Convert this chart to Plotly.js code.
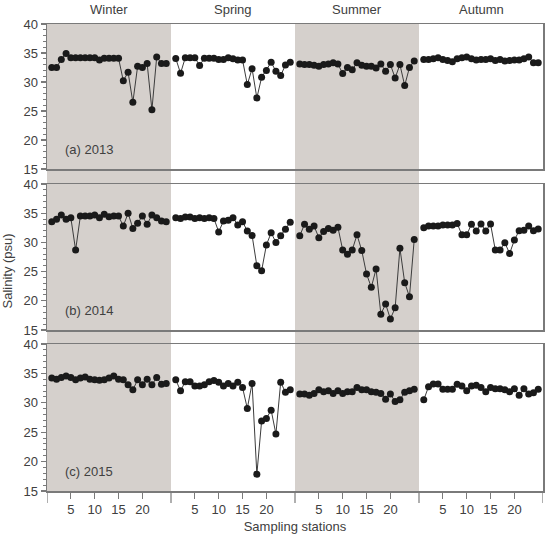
<!DOCTYPE html>
<html>
<head>
<meta charset="utf-8">
<script src="https://cdn.plot.ly/plotly-3.0.1.min.js"></script>
<style>html,body{margin:0;padding:0;background:#fff;}#chart{width:552px;height:541px;}</style>
</head>
<body>
<div id="chart"></div>
<script>
const stations = [1,2,3,4,5,6,7,8,9,10,11,12,13,14,15,16,17,18,19,20,21,22,23,24,25];
const seasons = ["Winter","Spring","Summer","Autumn"];
const yearLabels = ["(a) 2013","(b) 2014","(c) 2015"];
const xTickLabels = ["5","10","15","20"];

// 2013
const winter2013 = [32.5,32.5,33.9,34.9,34.2,34.2,34.2,34.2,34.2,34.2,33.8,34.1,34.1,34.1,34.1,30.2,31.7,26.5,32.7,32.5,33.2,25.2,34.3,33.2,33.2];
const spring2013 = [34.05,31.5,34.2,34.2,34.2,32.85,34.1,34.1,34.1,33.9,33.9,34.2,34.0,33.8,33.8,29.55,32.3,27.25,30.8,32.0,33.4,31.85,31.1,32.95,33.4];
const summer2013 = [33.1,33.0,33.0,32.9,32.7,33.0,33.1,33.3,33.1,31.45,32.5,32.1,33.3,32.9,32.7,32.7,32.4,33.1,31.85,33.0,30.7,33.0,29.4,32.5,33.6];
const autumn2013 = [33.9,33.9,34.0,34.2,33.9,33.7,33.5,34.0,34.2,34.3,34.0,33.8,33.9,33.9,34.0,33.7,33.9,33.6,33.7,33.8,33.8,34.0,34.3,33.3,33.3];
// 2014
const winter2014 = [33.55,33.95,34.7,33.95,34.2,28.7,34.5,34.5,34.5,34.7,34.2,34.8,34.4,34.5,34.5,32.8,35.0,32.4,33.3,34.5,33.1,34.7,34.2,33.65,33.55];
const spring2014 = [34.2,34.1,34.35,34.35,34.1,34.2,34.1,34.2,34.1,31.8,33.65,33.8,34.2,33.0,33.55,31.95,31.2,26.0,25.15,29.55,31.65,30.0,31.15,32.25,33.45];
const summer2014 = [31.15,33.1,32.25,32.8,30.8,31.85,32.4,32.1,32.6,28.7,27.95,28.7,31.3,28.6,24.6,22.3,25.45,17.7,19.45,16.9,18.8,29.0,23.1,20.7,30.5];
const autumn2014 = [32.5,32.8,32.8,32.8,33.0,33.0,33.0,33.25,31.3,31.3,33.1,31.95,33.15,31.95,33.15,28.7,28.7,29.95,28.1,30.4,32.0,32.1,32.8,32.0,32.3];
// 2015
const winter2015 = [34.2,34.0,34.3,34.55,34.3,33.9,34.2,34.4,34.0,33.9,33.85,33.9,34.2,34.55,34.0,33.9,33.05,32.2,33.9,33.05,34.0,33.05,34.3,33.15,33.3];
const spring2015 = [33.9,32.05,33.6,33.6,32.85,32.85,33.05,33.6,33.8,33.5,32.85,33.3,32.85,33.5,32.6,29.05,33.3,17.85,26.9,27.35,28.75,24.7,33.5,31.8,32.2];
const summer2015 = [31.5,31.5,31.3,31.6,32.2,31.9,32.05,31.6,32.05,31.6,31.9,31.9,32.6,32.2,32.2,31.9,31.8,31.6,30.6,31.5,30.2,30.5,31.8,32.05,32.3];
const autumn2015 = [30.5,32.75,33.2,33.2,32.3,32.3,32.3,33.15,32.85,32.05,32.85,33.0,32.6,31.9,32.6,32.4,32.4,32.2,31.9,32.4,31.3,32.4,31.5,31.7,32.3];

const rows = [
  [winter2013, spring2013, summer2013, autumn2013],
  [winter2014, spring2014, summer2014, autumn2014],
  [winter2015, spring2015, summer2015, autumn2015]
];

const SPAN = 26; // axis units per season panel
const FONT = '"Liberation Sans", Arial, sans-serif';
const TXT = '#404040';
const LINE = '#7a7a7a';

const traces = [];
rows.forEach((row, r) => {
  const sfx = r === 0 ? '' : String(r + 1);
  row.forEach((vals, k) => {
    traces.push({
      type: 'scatter', mode: 'lines+markers',
      x: stations.map(s => s + SPAN * k), y: vals,
      xaxis: 'x' + sfx, yaxis: 'y' + sfx,
      line: {color: '#3c3c3c', width: 1},
      marker: {color: '#1a1a1a', size: 7},
      showlegend: false, hoverinfo: 'skip'
    });
  });
});

const tickvals = [], ticktext = [];
for (let k = 0; k < 4; k++) {
  [5,10,15,20].forEach((v, i) => { tickvals.push(v + SPAN * k); ticktext.push(xTickLabels[i]); });
}

const H = 541 - 24 - 50;
const domains = [
  [(491 - 169) / H, 1],
  [(491 - 330) / H, (491 - 184) / H],
  [0, (491 - 344) / H]
];

const layout = {
  width: 552, height: 541,
  margin: {l: 47, r: 9, t: 24, b: 50},
  paper_bgcolor: '#ffffff', plot_bgcolor: 'rgba(0,0,0,0)',
  font: {family: FONT, size: 13, color: TXT},
  shapes: [], annotations: []
};

rows.forEach((row, r) => {
  const sfx = r === 0 ? '' : String(r + 1);
  const last = r === 2;
  layout['xaxis' + sfx] = {
    range: [0, SPAN * 4], anchor: 'y' + sfx,
    showline: true, mirror: true, linecolor: LINE, linewidth: 1.5,
    showgrid: false, zeroline: false,
    tickmode: 'array', tickvals: tickvals, ticktext: ticktext,
    ticks: last ? 'outside' : '', ticklen: 6, tickcolor: LINE, tickwidth: 1.2,
    showticklabels: last,
    tickfont: {family: FONT, size: 13, color: TXT},
    title: last ? {text: 'Sampling stations', font: {family: FONT, size: 13, color: TXT}, standoff: 6} : {text: ''}
  };
  if (r !== 2) layout['xaxis' + sfx].matches = 'x3';
  layout['yaxis' + sfx] = {
    domain: domains[r], range: [15, 40], anchor: 'x' + sfx,
    showline: true, mirror: true, linecolor: LINE, linewidth: 1.5,
    showgrid: false, zeroline: false,
    tickmode: 'array', tickvals: [15,20,25,30,35,40],
    ticks: 'outside', ticklen: 5, tickcolor: LINE, tickwidth: 1.2,
    minor: {dtick: 1, tick0: 15, ticks: 'outside', ticklen: 3, tickcolor: LINE, tickwidth: 1, showgrid: false},
    tickfont: {family: FONT, size: 13, color: TXT}
  };
  layout.annotations.push({
    xref: 'x' + sfx, yref: 'y' + sfx, x: 3.3, y: 18.3,
    xanchor: 'left', yanchor: 'middle', showarrow: false,
    text: yearLabels[r], font: {family: FONT, size: 13, color: TXT}
  });
});

// shaded winter & summer columns
[0, 2].forEach(k => {
  layout.shapes.push({
    type: 'rect', xref: 'x3', yref: 'paper',
    x0: SPAN * k, x1: SPAN * (k + 1), y0: 0, y1: 1,
    fillcolor: '#d5d0cc', line: {width: 0}, layer: 'below'
  });
});
// longer ticks at panel boundaries
for (let k = 0; k <= 4; k++) {
  layout.shapes.push({
    type: 'line', xref: 'x3', yref: 'paper',
    x0: SPAN * k, x1: SPAN * k, y0: 0, y1: -12 / H,
    line: {color: LINE, width: 1.2}
  });
}
// season titles
seasons.forEach((s, k) => {
  layout.annotations.push({
    xref: 'x3', yref: 'paper', x: SPAN * k + SPAN / 2, y: 1,
    xanchor: 'center', yanchor: 'bottom', yshift: 5, showarrow: false,
    text: s, font: {family: FONT, size: 13, color: TXT}
  });
});
// y title
layout.annotations.push({
  xref: 'paper', yref: 'paper', x: -47 / 496, y: 0.47, xshift: 8,
  xanchor: 'center', yanchor: 'middle', textangle: -90, showarrow: false,
  text: 'Salinity (psu)', font: {family: FONT, size: 13, color: TXT}
});

Plotly.newPlot('chart', traces, layout, {displayModeBar: false, staticPlot: true});
</script>
</body>
</html>
